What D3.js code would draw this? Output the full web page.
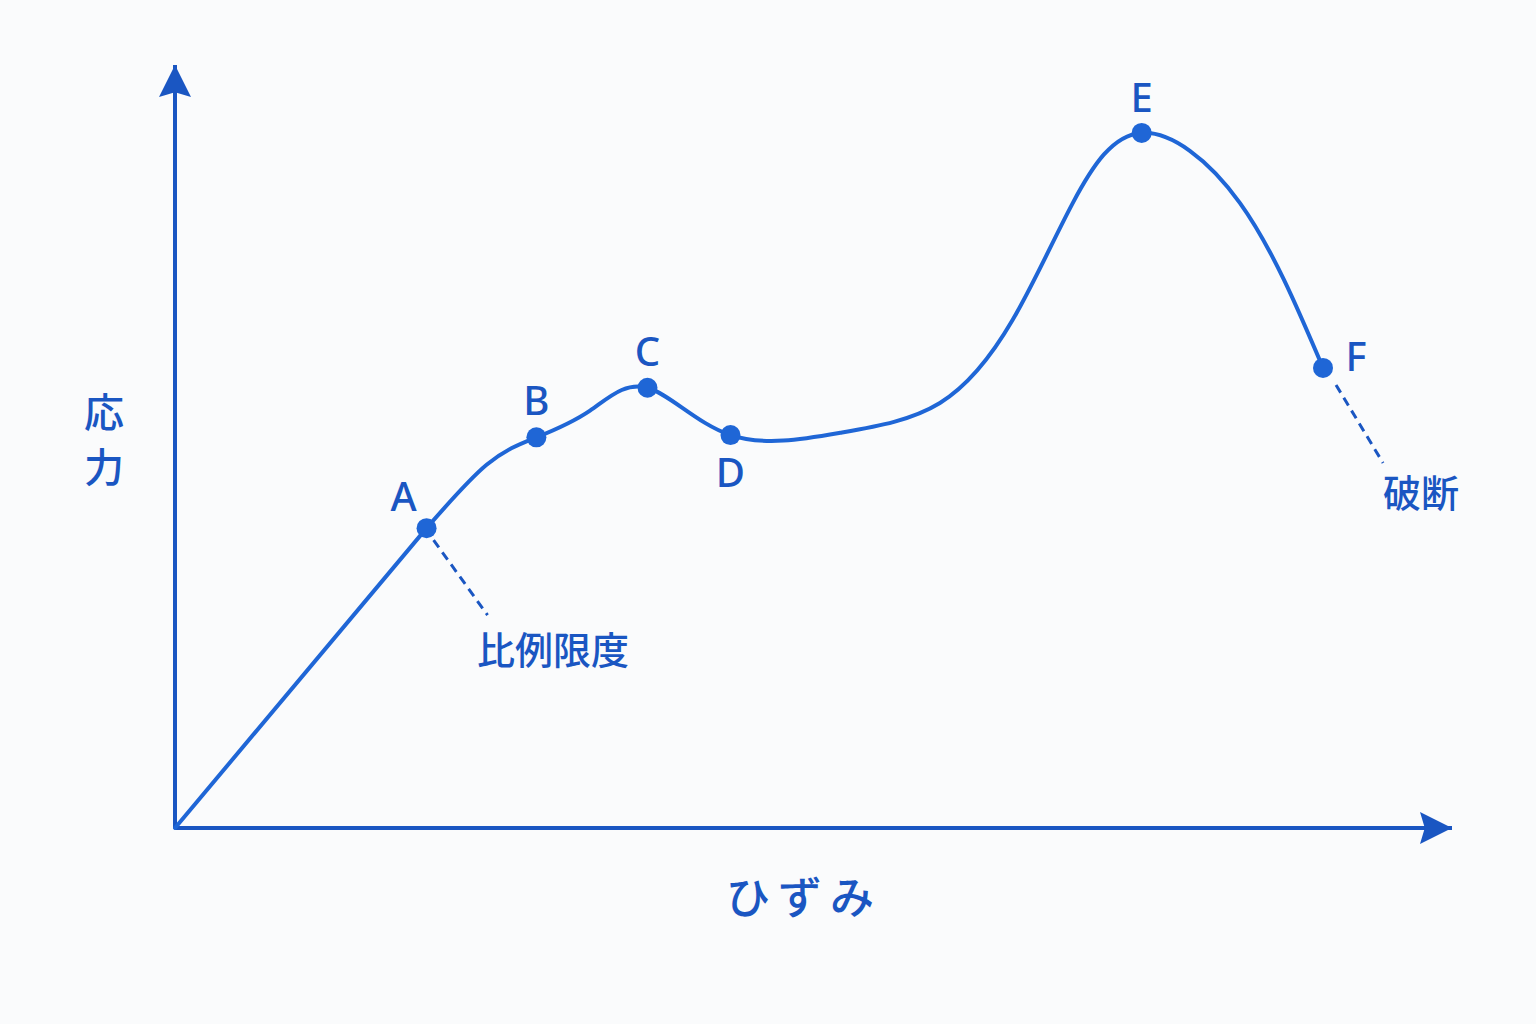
<!DOCTYPE html>
<html>
<head>
<meta charset="utf-8">
<script src="https://cdn.jsdelivr.net/npm/d3@7"></script>
<style>
  html, body { margin: 0; padding: 0; background: #fafbfc; }
  svg { display: block; }
  text { font-family: "Noto Sans CJK JP", "Noto Sans", sans-serif; fill: #1a56c2; }
</style>
</head>
<body>
<script>
// curve (strain, stress in arbitrary units 0-100)
const strain = [0, 19.7, 24.4, 28.3, 32.5, 37.0, 43.5, 52.1, 59.9, 65.6, 70.3, 75.7, 83.4, 89.9];
const stress = [0, 39.3, 47.6, 51.2, 54.7, 57.7, 51.5, 51.8, 55.7, 66.6, 81.9, 91.1, 81.9, 60.3];

// named points (index into the arrays above)
const pointNames = ['A', 'B', 'C', 'D', 'E', 'F'];
const pointIdx = [1, 3, 5, 6, 11, 13];

const xTitle = 'ひずみ',
    yTitle = ['応', '力'],
    noteA = '比例限度',
    noteF = '破断';

const W = 1536, H = 1024;
const axisColor = '#1a56c2',
    lineColor = '#1f66d6';

const x = d3.scaleLinear().domain([0, 100]).range([175, 1452]);
const y = d3.scaleLinear().domain([0, 100]).range([828, 65]);

const svg = d3.select('body').append('svg')
    .attr('width', W)
    .attr('height', H);

svg.append('rect').attr('width', W).attr('height', H).attr('fill', '#fafbfc');

// axes with arrow heads
const defs = svg.append('defs');
defs.append('marker')
    .attr('id', 'arrow')
    .attr('viewBox', '0 0 10 10')
    .attr('refX', 10).attr('refY', 5)
    .attr('markerWidth', 8).attr('markerHeight', 8)
    .attr('markerUnits', 'strokeWidth')
    .attr('orient', 'auto')
    .append('path')
    .attr('d', 'M0,0 L10,5 L0,10 L1.5,5 Z')
    .attr('fill', axisColor);

const axes = svg.append('g');
axes.append('line')
    .attr('x1', x(0)).attr('y1', y(0))
    .attr('x2', x(100)).attr('y2', y(0))
    .attr('stroke', axisColor).attr('stroke-width', 4)
    .attr('marker-end', 'url(#arrow)');
axes.append('line')
    .attr('x1', x(0)).attr('y1', y(0))
    .attr('x2', x(0)).attr('y2', y(100))
    .attr('stroke', axisColor).attr('stroke-width', 4)
    .attr('marker-end', 'url(#arrow)');

// curve: straight elastic part, then smooth
const pts = strain.map((s, i) => [s, stress[i]]);
const line = d3.line().x(d => x(d[0])).y(d => y(d[1]));

svg.append('path')
    .attr('d', line.curve(d3.curveLinear)(pts.slice(0, 2)))
    .attr('fill', 'none')
    .attr('stroke', lineColor)
    .attr('stroke-width', 4)
    .attr('stroke-linecap', 'round');

svg.append('path')
    .attr('d', line.curve(d3.curveNatural)(pts.slice(1)))
    .attr('fill', 'none')
    .attr('stroke', lineColor)
    .attr('stroke-width', 4)
    .attr('stroke-linecap', 'round');

// leader lines
const leaders = [
    { i: pointIdx[0], dx1: 7, dy1: 12, dx2: 61, dy2: 87 },
    { i: pointIdx[5], dx1: 13, dy1: 17, dx2: 60, dy2: 95 }
];
svg.selectAll('.leader')
    .data(leaders)
    .enter()
    .append('line')
    .attr('class', 'leader')
    .attr('x1', d => x(strain[d.i]) + d.dx1)
    .attr('y1', d => y(stress[d.i]) + d.dy1)
    .attr('x2', d => x(strain[d.i]) + d.dx2)
    .attr('y2', d => y(stress[d.i]) + d.dy2)
    .attr('stroke', axisColor)
    .attr('stroke-width', 3)
    .attr('stroke-dasharray', '9,6');

// points
const labelOffset = {
    A: [-23, -17], B: [0, -22], C: [0, -22], D: [0, 52], E: [0, -21], F: [33, 3]
};
const gp = svg.selectAll('.pt')
    .data(pointNames)
    .enter()
    .append('g')
    .attr('class', 'pt')
    .attr('transform', (d, k) => `translate(${x(strain[pointIdx[k]])}, ${y(stress[pointIdx[k]])})`);

gp.append('circle')
    .attr('r', 10)
    .attr('fill', lineColor);

gp.append('text')
    .attr('x', d => labelOffset[d][0])
    .attr('y', d => labelOffset[d][1])
    .attr('text-anchor', 'middle')
    .attr('font-size', 40)
    .attr('font-weight', 500)
    .style('font-family', '"Noto Sans", sans-serif')
    .text(d => d);

// notes
svg.append('text')
    .attr('x', 477).attr('y', 664)
    .attr('font-size', 38)
    .attr('font-weight', 500)
    .text(noteA);

svg.append('text')
    .attr('x', 1383).attr('y', 507)
    .attr('font-size', 38)
    .attr('font-weight', 500)
    .text(noteF);

// axis titles
svg.append('text')
    .attr('x', 804).attr('y', 914)
    .attr('text-anchor', 'middle')
    .attr('font-size', 44)
    .attr('font-weight', 500)
    .attr('letter-spacing', 8)
    .text(xTitle);

svg.selectAll('.ytitle')
    .data(yTitle)
    .enter()
    .append('text')
    .attr('class', 'ytitle')
    .attr('x', 104)
    .attr('y', (d, i) => 427 + i * 55)
    .attr('text-anchor', 'middle')
    .attr('font-size', 40)
    .attr('font-weight', 500)
    .text(d => d);
</script>
</body>
</html>
